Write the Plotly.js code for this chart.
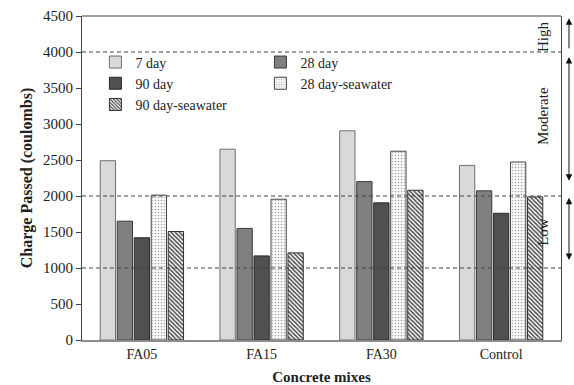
<!DOCTYPE html>
<html>
<head>
<meta charset="utf-8">
<script src="https://cdn.plot.ly/plotly-3.0.1.min.js"></script>
<style>html,body{margin:0;padding:0;background:#fff;}#chart{width:574px;height:385px;}</style>
</head>
<body>
<div id="chart"></div>
<script>
const categories = ["FA05", "FA15", "FA30", "Control"];
const seriesNames = ["7 day", "28 day", "90 day", "28 day-seawater", "90 day-seawater"];
const day7 = [2490, 2650, 2905, 2425];
const day28 = [1650, 1550, 2200, 2072];
const day90 = [1420, 1168, 1905, 1760];
const day28Sea = [2012, 1955, 2622, 2472];
const day90Sea = [1507, 1210, 2080, 1988];
const yTicks = [0, 500, 1000, 1500, 2000, 2500, 3000, 3500, 4000, 4500];
const thresholds = [1000, 2000, 4000];
const zones = [
  {label: "High", y: 4220, from: 4030, to: 4470, both: false},
  {label: "Moderate", y: 3110, from: 2190, to: 3930, both: true},
  {label: "Low", y: 1500, from: 1090, to: 1975, both: true}
];

const FONT = "Liberation Serif, Times New Roman, serif";
const styles = [
  {color: "#d9d9d9", line: "#6e6e6e"},
  {color: "#808080", line: "#3a3a3a"},
  {color: "#505050", line: "#2a2a2a"},
  {color: "#ffffff", line: "#444", pattern: {shape: ".", fgcolor: "#a8a8a8", bgcolor: "#fdfdfd", size: 3, solidity: 0.25}},
  {color: "#ffffff", line: "#333", pattern: {shape: "\\", fgcolor: "#4a4a4a", bgcolor: "#ffffff", size: 3, solidity: 0.5}}
];
const values = [day7, day28, day90, day28Sea, day90Sea];

const traces = values.map((v, i) => ({
  type: "bar",
  name: seriesNames[i],
  x: categories,
  y: v,
  marker: Object.assign({color: styles[i].color, line: {color: styles[i].line, width: 1}},
    styles[i].pattern ? {pattern: styles[i].pattern} : {})
}));

const shapes = thresholds.map(t => ({
  type: "line", xref: "paper", yref: "y", x0: 0, x1: 1, y0: t, y1: t,
  line: {color: "#444", width: 1, dash: "4px,3px"}
}));
shapes.push({type: "line", xref: "paper", yref: "paper", x0: 0, x1: 1, y0: 1, y1: 1, line: {color: "#444", width: 1}});

const annotations = [];
zones.forEach(z => {
  annotations.push({
    xref: "paper", yref: "y", x: 0.983, y: z.y, text: z.label, showarrow: false,
    textangle: -90, font: {family: FONT, size: 15, color: "#222"}
  });
  annotations.push({
    xref: "paper", yref: "y", x: 1.0167, y: z.to, axref: "pixel", ayref: "y", ax: 0, ay: z.from,
    text: "", showarrow: true, arrowhead: 2, arrowsize: 1.3, arrowwidth: 1, arrowcolor: "#111",
    arrowside: z.both ? "end+start" : "end", startarrowhead: 2, startarrowsize: 1.3,
    standoff: 0, startstandoff: 0
  });
});

const layout = {
  width: 574, height: 385,
  margin: {l: 82, r: 13, t: 16, b: 45},
  paper_bgcolor: "#fff", plot_bgcolor: "#fff",
  font: {family: FONT, color: "#222", size: 15},
  barmode: "group", bargap: 0.29, bargroupgap: 0.1,
  showlegend: true,
  legend: {
    orientation: "h", x: 0.028, xanchor: "left", y: 0.906, yanchor: "top",
    entrywidth: 120, entrywidthmode: "pixels",
    bgcolor: "rgba(0,0,0,0)", font: {family: FONT, size: 14, color: "#222"},
    itemwidth: 30, tracegroupgap: 0
  },
  xaxis: {
    type: "category", range: [-0.5, 3.5],
    showline: true, linecolor: "#8c8c8c", linewidth: 2, mirror: false,
    ticks: "", tickfont: {family: FONT, size: 14, color: "#222"},
    title: {text: "<b>Concrete mixes</b>", font: {family: FONT, size: 15, color: "#222"}, standoff: 11},
    showgrid: false, zeroline: false, fixedrange: true
  },
  yaxis: {
    range: [0, 4500], tickvals: yTicks, ticktext: yTicks.map(String),
    showline: true, linecolor: "#444", linewidth: 1, mirror: true,
    ticks: "outside", ticklen: 5, tickcolor: "#444",
    tickfont: {family: FONT, size: 15, color: "#222"},
    title: {text: "<b>Charge Passed (coulombs)</b>", font: {family: FONT, size: 16, color: "#222"}, standoff: 6},
    showgrid: false, zeroline: false, fixedrange: true
  },
  shapes: shapes,
  annotations: annotations
};

Plotly.newPlot("chart", traces, layout, {displayModeBar: false, staticPlot: true});
</script>
</body>
</html>
